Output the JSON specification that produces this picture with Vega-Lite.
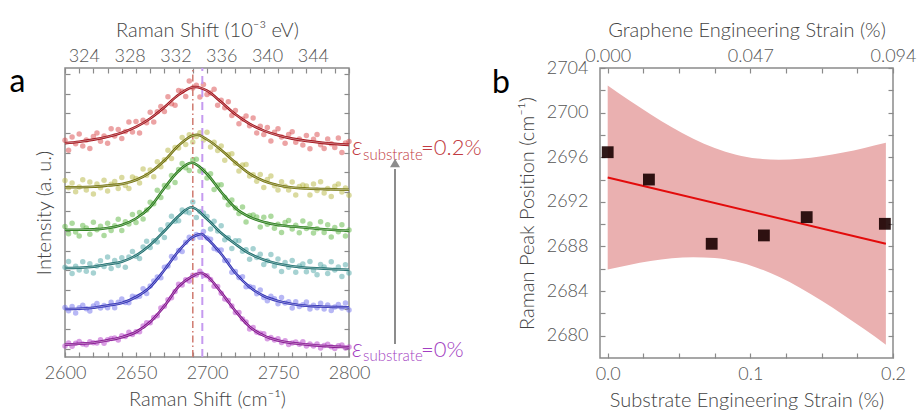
{
"$schema":"https://vega.github.io/schema/vega-lite/v6.json",
"padding":{"left":8,"top":19,"right":5,"bottom":5},
"background":"white",
"bounds":"flush",
"spacing":251,
"config":{
 "font":"Lato",
 "view":{"stroke":"#8a8a8a","strokeWidth":1.5},
 "axis":{"domain":false,"grid":false,"labelFont":"Lato","labelFontSize":18,"labelFontWeight":300,"labelColor":"#555555","titleFont":"Lato","titleFontSize":20,"titleFontWeight":300,"titleColor":"#444444","tickColor":"#8a8a8a","tickWidth":1.2,"labelFlush":false,"labelOverlap":false}
},
"datasets":{
"pts":[
{"e":0.195,"x":2600,"y":216.7},{"e":0.195,"x":2602.5,"y":206.8},{"e":0.195,"x":2605,"y":219.9},{"e":0.195,"x":2607.5,"y":213.2},{"e":0.195,"x":2610,"y":223.1},{"e":0.195,"x":2612.5,"y":211},{"e":0.195,"x":2615,"y":216.9},{"e":0.195,"x":2617.5,"y":208.4},{"e":0.195,"x":2620,"y":220.6},{"e":0.195,"x":2622.5,"y":224},{"e":0.195,"x":2625,"y":215.8},{"e":0.195,"x":2627.5,"y":221},{"e":0.195,"x":2630,"y":213.7},{"e":0.195,"x":2632.5,"y":228.2},{"e":0.195,"x":2635,"y":221.1},{"e":0.195,"x":2637.5,"y":227.5},{"e":0.195,"x":2640,"y":218.6},{"e":0.195,"x":2642.5,"y":225.5},{"e":0.195,"x":2645,"y":235.1},{"e":0.195,"x":2647.5,"y":224.9},{"e":0.195,"x":2650,"y":235.4},{"e":0.195,"x":2652.5,"y":223.9},{"e":0.195,"x":2655,"y":236.7},{"e":0.195,"x":2657.5,"y":234.2},{"e":0.195,"x":2660,"y":244.8},{"e":0.195,"x":2662.5,"y":235.1},{"e":0.195,"x":2665,"y":245.2},{"e":0.195,"x":2667.5,"y":250.6},{"e":0.195,"x":2670,"y":245.5},{"e":0.195,"x":2672.5,"y":260.2},{"e":0.195,"x":2675,"y":253.3},{"e":0.195,"x":2677.5,"y":251.8},{"e":0.195,"x":2680,"y":266.5},{"e":0.195,"x":2682.5,"y":265.8},{"e":0.195,"x":2685,"y":260.6},{"e":0.195,"x":2687.5,"y":276.1},{"e":0.195,"x":2690,"y":269.1},{"e":0.195,"x":2692.5,"y":271.7},{"e":0.195,"x":2695,"y":259.9},{"e":0.195,"x":2697.5,"y":272.4},{"e":0.195,"x":2700,"y":262.4},{"e":0.195,"x":2702.5,"y":263.9},{"e":0.195,"x":2705,"y":267.7},{"e":0.195,"x":2707.5,"y":251.7},{"e":0.195,"x":2710,"y":256.8},{"e":0.195,"x":2712.5,"y":249.3},{"e":0.195,"x":2715,"y":255.3},{"e":0.195,"x":2717.5,"y":241.5},{"e":0.195,"x":2720,"y":246.6},{"e":0.195,"x":2722.5,"y":233.3},{"e":0.195,"x":2725,"y":238},{"e":0.195,"x":2727.5,"y":240.9},{"e":0.195,"x":2730,"y":231.2},{"e":0.195,"x":2732.5,"y":239.1},{"e":0.195,"x":2735,"y":224.1},{"e":0.195,"x":2737.5,"y":230.7},{"e":0.195,"x":2740,"y":222.4},{"e":0.195,"x":2742.5,"y":229.5},{"e":0.195,"x":2745,"y":215.9},{"e":0.195,"x":2747.5,"y":224.8},{"e":0.195,"x":2750,"y":228.3},{"e":0.195,"x":2752.5,"y":220.1},{"e":0.195,"x":2755,"y":213.7},{"e":0.195,"x":2757.5,"y":222.6},{"e":0.195,"x":2760,"y":225.2},{"e":0.195,"x":2762.5,"y":214.8},{"e":0.195,"x":2765,"y":217.9},{"e":0.195,"x":2767.5,"y":212},{"e":0.195,"x":2770,"y":221.4},{"e":0.195,"x":2772.5,"y":208.3},{"e":0.195,"x":2775,"y":217.7},{"e":0.195,"x":2777.5,"y":222.6},{"e":0.195,"x":2780,"y":212.2},{"e":0.195,"x":2782.5,"y":208.4},{"e":0.195,"x":2785,"y":218},{"e":0.195,"x":2787.5,"y":213.3},{"e":0.195,"x":2790,"y":209.4},{"e":0.195,"x":2792.5,"y":219.1},{"e":0.195,"x":2795,"y":204.4},{"e":0.195,"x":2797.5,"y":214.1},{"e":0.195,"x":2800,"y":215.6},
{"e":0.14,"x":2600,"y":176.4},{"e":0.14,"x":2602.5,"y":169.2},{"e":0.14,"x":2605,"y":174},{"e":0.14,"x":2607.5,"y":165.2},{"e":0.14,"x":2610,"y":170},{"e":0.14,"x":2612.5,"y":177.3},{"e":0.14,"x":2615,"y":167},{"e":0.14,"x":2617.5,"y":175},{"e":0.14,"x":2620,"y":163.1},{"e":0.14,"x":2622.5,"y":173},{"e":0.14,"x":2625,"y":169.3},{"e":0.14,"x":2627.5,"y":176.8},{"e":0.14,"x":2630,"y":165.9},{"e":0.14,"x":2632.5,"y":172.7},{"e":0.14,"x":2635,"y":175.5},{"e":0.14,"x":2637.5,"y":168.6},{"e":0.14,"x":2640,"y":179.4},{"e":0.14,"x":2642.5,"y":171.6},{"e":0.14,"x":2645,"y":168.6},{"e":0.14,"x":2647.5,"y":180},{"e":0.14,"x":2650,"y":178.6},{"e":0.14,"x":2652.5,"y":174.1},{"e":0.14,"x":2655,"y":188},{"e":0.14,"x":2657.5,"y":181.8},{"e":0.14,"x":2660,"y":186.9},{"e":0.14,"x":2662.5,"y":180.3},{"e":0.14,"x":2665,"y":195.3},{"e":0.14,"x":2667.5,"y":190.3},{"e":0.14,"x":2670,"y":197.3},{"e":0.14,"x":2672.5,"y":206.7},{"e":0.14,"x":2675,"y":198.4},{"e":0.14,"x":2677.5,"y":209.4},{"e":0.14,"x":2680,"y":209.1},{"e":0.14,"x":2682.5,"y":219.6},{"e":0.14,"x":2685,"y":212.5},{"e":0.14,"x":2687.5,"y":222.2},{"e":0.14,"x":2690,"y":215.1},{"e":0.14,"x":2692.5,"y":220.5},{"e":0.14,"x":2695,"y":224.3},{"e":0.14,"x":2697.5,"y":216.9},{"e":0.14,"x":2700,"y":224.7},{"e":0.14,"x":2702.5,"y":210.1},{"e":0.14,"x":2705,"y":214.7},{"e":0.14,"x":2707.5,"y":206.4},{"e":0.14,"x":2710,"y":211},{"e":0.14,"x":2712.5,"y":196.7},{"e":0.14,"x":2715,"y":202.4},{"e":0.14,"x":2717.5,"y":203.2},{"e":0.14,"x":2720,"y":193.7},{"e":0.14,"x":2722.5,"y":186.1},{"e":0.14,"x":2725,"y":192.1},{"e":0.14,"x":2727.5,"y":192.5},{"e":0.14,"x":2730,"y":180.9},{"e":0.14,"x":2732.5,"y":182.3},{"e":0.14,"x":2735,"y":175.7},{"e":0.14,"x":2737.5,"y":182.6},{"e":0.14,"x":2740,"y":169.6},{"e":0.14,"x":2742.5,"y":177.4},{"e":0.14,"x":2745,"y":181.1},{"e":0.14,"x":2747.5,"y":171.3},{"e":0.14,"x":2750,"y":167},{"e":0.14,"x":2752.5,"y":175.2},{"e":0.14,"x":2755,"y":170.7},{"e":0.14,"x":2757.5,"y":166.9},{"e":0.14,"x":2760,"y":175.1},{"e":0.14,"x":2762.5,"y":162.1},{"e":0.14,"x":2765,"y":170.6},{"e":0.14,"x":2767.5,"y":172},{"e":0.14,"x":2770,"y":170.9},{"e":0.14,"x":2772.5,"y":162},{"e":0.14,"x":2775,"y":173.1},{"e":0.14,"x":2777.5,"y":166.5},{"e":0.14,"x":2780,"y":175.2},{"e":0.14,"x":2782.5,"y":163.9},{"e":0.14,"x":2785,"y":168.6},{"e":0.14,"x":2787.5,"y":160.5},{"e":0.14,"x":2790,"y":170.8},{"e":0.14,"x":2792.5,"y":173.1},{"e":0.14,"x":2795,"y":165.1},{"e":0.14,"x":2797.5,"y":169},{"e":0.14,"x":2800,"y":161.7},
{"e":0.11,"x":2600,"y":130.5},{"e":0.11,"x":2602.5,"y":123.3},{"e":0.11,"x":2605,"y":133.7},{"e":0.11,"x":2607.5,"y":124.9},{"e":0.11,"x":2610,"y":120.9},{"e":0.11,"x":2612.5,"y":131.4},{"e":0.11,"x":2615,"y":129.1},{"e":0.11,"x":2617.5,"y":122.7},{"e":0.11,"x":2620,"y":134.8},{"e":0.11,"x":2622.5,"y":127.2},{"e":0.11,"x":2625,"y":130.7},{"e":0.11,"x":2627.5,"y":121.5},{"e":0.11,"x":2630,"y":133.8},{"e":0.11,"x":2632.5,"y":126.6},{"e":0.11,"x":2635,"y":131.3},{"e":0.11,"x":2637.5,"y":137.7},{"e":0.11,"x":2640,"y":126.4},{"e":0.11,"x":2642.5,"y":135.2},{"e":0.11,"x":2645,"y":132.9},{"e":0.11,"x":2647.5,"y":142.5},{"e":0.11,"x":2650,"y":134.5},{"e":0.11,"x":2652.5,"y":144.6},{"e":0.11,"x":2655,"y":137.9},{"e":0.11,"x":2657.5,"y":147.1},{"e":0.11,"x":2660,"y":154.8},{"e":0.11,"x":2662.5,"y":153.2},{"e":0.11,"x":2665,"y":166.7},{"e":0.11,"x":2667.5,"y":159.5},{"e":0.11,"x":2670,"y":171.4},{"e":0.11,"x":2672.5,"y":170.1},{"e":0.11,"x":2675,"y":181.5},{"e":0.11,"x":2677.5,"y":174.6},{"e":0.11,"x":2680,"y":187.6},{"e":0.11,"x":2682.5,"y":193.6},{"e":0.11,"x":2685,"y":189.2},{"e":0.11,"x":2687.5,"y":186.4},{"e":0.11,"x":2690,"y":197.2},{"e":0.11,"x":2692.5,"y":197.7},{"e":0.11,"x":2695,"y":186.1},{"e":0.11,"x":2697.5,"y":186.6},{"e":0.11,"x":2700,"y":179},{"e":0.11,"x":2702.5,"y":183.3},{"e":0.11,"x":2705,"y":167.6},{"e":0.11,"x":2707.5,"y":171.9},{"e":0.11,"x":2710,"y":172.2},{"e":0.11,"x":2712.5,"y":159.4},{"e":0.11,"x":2715,"y":152.2},{"e":0.11,"x":2717.5,"y":157},{"e":0.11,"x":2720,"y":149},{"e":0.11,"x":2722.5,"y":143.6},{"e":0.11,"x":2725,"y":150.1},{"e":0.11,"x":2727.5,"y":135.1},{"e":0.11,"x":2730,"y":141.6},{"e":0.11,"x":2732.5,"y":142},{"e":0.11,"x":2735,"y":139.9},{"e":0.11,"x":2737.5,"y":129.9},{"e":0.11,"x":2740,"y":139.8},{"e":0.11,"x":2742.5,"y":132.7},{"e":0.11,"x":2745,"y":140.7},{"e":0.11,"x":2747.5,"y":128.8},{"e":0.11,"x":2750,"y":132.8},{"e":0.11,"x":2752.5,"y":124.4},{"e":0.11,"x":2755,"y":134.5},{"e":0.11,"x":2757.5,"y":136.5},{"e":0.11,"x":2760,"y":128.1},{"e":0.11,"x":2762.5,"y":131.8},{"e":0.11,"x":2765,"y":124.3},{"e":0.11,"x":2767.5,"y":136},{"e":0.11,"x":2770,"y":128.5},{"e":0.11,"x":2772.5,"y":133},{"e":0.11,"x":2775,"y":123.9},{"e":0.11,"x":2777.5,"y":128.3},{"e":0.11,"x":2780,"y":135.2},{"e":0.11,"x":2782.5,"y":124.6},{"e":0.11,"x":2785,"y":132.3},{"e":0.11,"x":2787.5,"y":120.1},{"e":0.11,"x":2790,"y":129.4},{"e":0.11,"x":2792.5,"y":125.2},{"e":0.11,"x":2795,"y":132.3},{"e":0.11,"x":2797.5,"y":120.9},{"e":0.11,"x":2800,"y":127.1},
{"e":0.073,"x":2600,"y":89.8},{"e":0.073,"x":2602.5,"y":95.5},{"e":0.073,"x":2605,"y":83.6},{"e":0.073,"x":2607.5,"y":90.8},{"e":0.073,"x":2610,"y":86.9},{"e":0.073,"x":2612.5,"y":95.2},{"e":0.073,"x":2615,"y":85.8},{"e":0.073,"x":2617.5,"y":93.3},{"e":0.073,"x":2620,"y":83.9},{"e":0.073,"x":2622.5,"y":90.9},{"e":0.073,"x":2625,"y":96.3},{"e":0.073,"x":2627.5,"y":90.5},{"e":0.073,"x":2630,"y":99.9},{"e":0.073,"x":2632.5,"y":88.6},{"e":0.073,"x":2635,"y":96.4},{"e":0.073,"x":2637.5,"y":91.5},{"e":0.073,"x":2640,"y":99.3},{"e":0.073,"x":2642.5,"y":89.7},{"e":0.073,"x":2645,"y":100},{"e":0.073,"x":2647.5,"y":105.6},{"e":0.073,"x":2650,"y":100.7},{"e":0.073,"x":2652.5,"y":98.5},{"e":0.073,"x":2655,"y":110},{"e":0.073,"x":2657.5,"y":115.8},{"e":0.073,"x":2660,"y":109.6},{"e":0.073,"x":2662.5,"y":116.3},{"e":0.073,"x":2665,"y":115},{"e":0.073,"x":2667.5,"y":127.3},{"e":0.073,"x":2670,"y":119.6},{"e":0.073,"x":2672.5,"y":132.2},{"e":0.073,"x":2675,"y":140.7},{"e":0.073,"x":2677.5,"y":135.7},{"e":0.073,"x":2680,"y":136.2},{"e":0.073,"x":2682.5,"y":147.1},{"e":0.073,"x":2685,"y":145.3},{"e":0.073,"x":2687.5,"y":144.2},{"e":0.073,"x":2690,"y":155.1},{"e":0.073,"x":2692.5,"y":139.4},{"e":0.073,"x":2695,"y":145.4},{"e":0.073,"x":2697.5,"y":144.1},{"e":0.073,"x":2700,"y":140.4},{"e":0.073,"x":2702.5,"y":128.1},{"e":0.073,"x":2705,"y":135.8},{"e":0.073,"x":2707.5,"y":125.9},{"e":0.073,"x":2710,"y":131.2},{"e":0.073,"x":2712.5,"y":117.3},{"e":0.073,"x":2715,"y":119.3},{"e":0.073,"x":2717.5,"y":108.6},{"e":0.073,"x":2720,"y":116.2},{"e":0.073,"x":2722.5,"y":116.2},{"e":0.073,"x":2725,"y":105.8},{"e":0.073,"x":2727.5,"y":107.3},{"e":0.073,"x":2730,"y":97.7},{"e":0.073,"x":2732.5,"y":108.2},{"e":0.073,"x":2735,"y":99.5},{"e":0.073,"x":2737.5,"y":102.8},{"e":0.073,"x":2740,"y":92.5},{"e":0.073,"x":2742.5,"y":96.3},{"e":0.073,"x":2745,"y":102.5},{"e":0.073,"x":2747.5,"y":91.1},{"e":0.073,"x":2750,"y":98.1},{"e":0.073,"x":2752.5,"y":85.5},{"e":0.073,"x":2755,"y":94.5},{"e":0.073,"x":2757.5,"y":89.8},{"e":0.073,"x":2760,"y":96.4},{"e":0.073,"x":2762.5,"y":84.8},{"e":0.073,"x":2765,"y":90.9},{"e":0.073,"x":2767.5,"y":92.9},{"e":0.073,"x":2770,"y":85.3},{"e":0.073,"x":2772.5,"y":95.5},{"e":0.073,"x":2775,"y":86.5},{"e":0.073,"x":2777.5,"y":82.3},{"e":0.073,"x":2780,"y":92.5},{"e":0.073,"x":2782.5,"y":89.9},{"e":0.073,"x":2785,"y":83.4},{"e":0.073,"x":2787.5,"y":95.2},{"e":0.073,"x":2790,"y":87},{"e":0.073,"x":2792.5,"y":90.1},{"e":0.073,"x":2795,"y":80.4},{"e":0.073,"x":2797.5,"y":92.2},{"e":0.073,"x":2800,"y":84.1},
{"e":0.028,"x":2600,"y":49.4},{"e":0.028,"x":2602.5,"y":46.3},{"e":0.028,"x":2605,"y":50.5},{"e":0.028,"x":2607.5,"y":44.1},{"e":0.028,"x":2610,"y":49.2},{"e":0.028,"x":2612.5,"y":51.8},{"e":0.028,"x":2615,"y":48.3},{"e":0.028,"x":2617.5,"y":45.9},{"e":0.028,"x":2620,"y":51.1},{"e":0.028,"x":2622.5,"y":53.5},{"e":0.028,"x":2625,"y":49},{"e":0.028,"x":2627.5,"y":51.5},{"e":0.028,"x":2630,"y":49.2},{"e":0.028,"x":2632.5,"y":54.8},{"e":0.028,"x":2635,"y":49.2},{"e":0.028,"x":2637.5,"y":54.8},{"e":0.028,"x":2640,"y":58.1},{"e":0.028,"x":2642.5,"y":54.6},{"e":0.028,"x":2645,"y":54.3},{"e":0.028,"x":2647.5,"y":60.8},{"e":0.028,"x":2650,"y":60},{"e":0.028,"x":2652.5,"y":60.7},{"e":0.028,"x":2655,"y":68.2},{"e":0.028,"x":2657.5,"y":63.4},{"e":0.028,"x":2660,"y":70.9},{"e":0.028,"x":2662.5,"y":76.1},{"e":0.028,"x":2665,"y":79.9},{"e":0.028,"x":2667.5,"y":79.2},{"e":0.028,"x":2670,"y":89.7},{"e":0.028,"x":2672.5,"y":90.9},{"e":0.028,"x":2675,"y":100.6},{"e":0.028,"x":2677.5,"y":99},{"e":0.028,"x":2680,"y":106.5},{"e":0.028,"x":2682.5,"y":105.4},{"e":0.028,"x":2685,"y":114.8},{"e":0.028,"x":2687.5,"y":119.7},{"e":0.028,"x":2690,"y":118.6},{"e":0.028,"x":2692.5,"y":122.4},{"e":0.028,"x":2695,"y":119.8},{"e":0.028,"x":2697.5,"y":125.6},{"e":0.028,"x":2700,"y":119},{"e":0.028,"x":2702.5,"y":117.7},{"e":0.028,"x":2705,"y":108.6},{"e":0.028,"x":2707.5,"y":107.1},{"e":0.028,"x":2710,"y":107.1},{"e":0.028,"x":2712.5,"y":96.5},{"e":0.028,"x":2715,"y":96.2},{"e":0.028,"x":2717.5,"y":84.7},{"e":0.028,"x":2720,"y":85.4},{"e":0.028,"x":2722.5,"y":79.6},{"e":0.028,"x":2725,"y":80.2},{"e":0.028,"x":2727.5,"y":70.3},{"e":0.028,"x":2730,"y":70.5},{"e":0.028,"x":2732.5,"y":69.6},{"e":0.028,"x":2735,"y":63.2},{"e":0.028,"x":2737.5,"y":66.9},{"e":0.028,"x":2740,"y":59.6},{"e":0.028,"x":2742.5,"y":56.2},{"e":0.028,"x":2745,"y":60.8},{"e":0.028,"x":2747.5,"y":58.2},{"e":0.028,"x":2750,"y":53.3},{"e":0.028,"x":2752.5,"y":59.4},{"e":0.028,"x":2755,"y":54},{"e":0.028,"x":2757.5,"y":55.2},{"e":0.028,"x":2760,"y":48.9},{"e":0.028,"x":2762.5,"y":55.3},{"e":0.028,"x":2765,"y":50.4},{"e":0.028,"x":2767.5,"y":52.2},{"e":0.028,"x":2770,"y":54.9},{"e":0.028,"x":2772.5,"y":47.9},{"e":0.028,"x":2775,"y":51.8},{"e":0.028,"x":2777.5,"y":49.3},{"e":0.028,"x":2780,"y":53.7},{"e":0.028,"x":2782.5,"y":48.1},{"e":0.028,"x":2785,"y":52.1},{"e":0.028,"x":2787.5,"y":46.5},{"e":0.028,"x":2790,"y":50},{"e":0.028,"x":2792.5,"y":52.6},{"e":0.028,"x":2795,"y":49},{"e":0.028,"x":2797.5,"y":53.9},{"e":0.028,"x":2800,"y":47},
{"e":0,"x":2600,"y":11},{"e":0,"x":2602.5,"y":14},{"e":0,"x":2605,"y":10.8},{"e":0,"x":2607.5,"y":13.8},{"e":0,"x":2610,"y":15.5},{"e":0,"x":2612.5,"y":13},{"e":0,"x":2615,"y":12.3},{"e":0,"x":2617.5,"y":15.3},{"e":0,"x":2620,"y":14.3},{"e":0,"x":2622.5,"y":13.9},{"e":0,"x":2625,"y":17.3},{"e":0,"x":2627.5,"y":13.8},{"e":0,"x":2630,"y":17.2},{"e":0,"x":2632.5,"y":18.5},{"e":0,"x":2635,"y":19},{"e":0,"x":2637.5,"y":17},{"e":0,"x":2640,"y":21.3},{"e":0,"x":2642.5,"y":20.6},{"e":0,"x":2645,"y":24.7},{"e":0,"x":2647.5,"y":22.4},{"e":0,"x":2650,"y":25.3},{"e":0,"x":2652.5,"y":25.2},{"e":0,"x":2655,"y":31},{"e":0,"x":2657.5,"y":34.3},{"e":0,"x":2660,"y":34.2},{"e":0,"x":2662.5,"y":39.5},{"e":0,"x":2665,"y":41.2},{"e":0,"x":2667.5,"y":49},{"e":0,"x":2670,"y":50.7},{"e":0,"x":2672.5,"y":57.2},{"e":0,"x":2675,"y":59.3},{"e":0,"x":2677.5,"y":65.6},{"e":0,"x":2680,"y":72.8},{"e":0,"x":2682.5,"y":72.1},{"e":0,"x":2685,"y":77.3},{"e":0,"x":2687.5,"y":76.1},{"e":0,"x":2690,"y":81.8},{"e":0,"x":2692.5,"y":82},{"e":0,"x":2695,"y":85.8},{"e":0,"x":2697.5,"y":81.7},{"e":0,"x":2700,"y":81.3},{"e":0,"x":2702.5,"y":77.5},{"e":0,"x":2705,"y":70.7},{"e":0,"x":2707.5,"y":70.5},{"e":0,"x":2710,"y":63.7},{"e":0,"x":2712.5,"y":57.9},{"e":0,"x":2715,"y":56.6},{"e":0,"x":2717.5,"y":51.1},{"e":0,"x":2720,"y":44.5},{"e":0,"x":2722.5,"y":44.4},{"e":0,"x":2725,"y":37.9},{"e":0,"x":2727.5,"y":35},{"e":0,"x":2730,"y":28},{"e":0,"x":2732.5,"y":29.5},{"e":0,"x":2735,"y":24.8},{"e":0,"x":2737.5,"y":23.8},{"e":0,"x":2740,"y":23.3},{"e":0,"x":2742.5,"y":18.3},{"e":0,"x":2745,"y":19.4},{"e":0,"x":2747.5,"y":16.9},{"e":0,"x":2750,"y":18.3},{"e":0,"x":2752.5,"y":14.6},{"e":0,"x":2755,"y":16.3},{"e":0,"x":2757.5,"y":12.6},{"e":0,"x":2760,"y":14},{"e":0,"x":2762.5,"y":15.1},{"e":0,"x":2765,"y":12.8},{"e":0,"x":2767.5,"y":15.2},{"e":0,"x":2770,"y":11},{"e":0,"x":2772.5,"y":13},{"e":0,"x":2775,"y":10.9},{"e":0,"x":2777.5,"y":12.9},{"e":0,"x":2780,"y":9},{"e":0,"x":2782.5,"y":11.6},{"e":0,"x":2785,"y":12.7},{"e":0,"x":2787.5,"y":10.3},{"e":0,"x":2790,"y":8.6},{"e":0,"x":2792.5,"y":11.2},{"e":0,"x":2795,"y":12.1},{"e":0,"x":2797.5,"y":9.1},{"e":0,"x":2800,"y":10}
],
"fit":[
{"e":0.195,"x":2600,"y":213.8},{"e":0.195,"x":2610,"y":215.3},{"e":0.195,"x":2620,"y":217.4},{"e":0.195,"x":2630,"y":220.3},{"e":0.195,"x":2640,"y":224.3},{"e":0.195,"x":2650,"y":230.1},{"e":0.195,"x":2660,"y":238.5},{"e":0.195,"x":2670,"y":249.8},{"e":0.195,"x":2680,"y":262.2},{"e":0.195,"x":2690,"y":269.8},{"e":0.195,"x":2692,"y":270},{"e":0.195,"x":2700,"y":266.3},{"e":0.195,"x":2710,"y":254.9},{"e":0.195,"x":2720,"y":242.7},{"e":0.195,"x":2730,"y":233.1},{"e":0.195,"x":2740,"y":226.4},{"e":0.195,"x":2750,"y":221.7},{"e":0.195,"x":2760,"y":218.4},{"e":0.195,"x":2770,"y":216.1},{"e":0.195,"x":2780,"y":214.4},{"e":0.195,"x":2790,"y":213.1},{"e":0.195,"x":2800,"y":212.1},
{"e":0.14,"x":2600,"y":169.7},{"e":0.14,"x":2610,"y":169.8},{"e":0.14,"x":2620,"y":170.3},{"e":0.14,"x":2630,"y":171.5},{"e":0.14,"x":2640,"y":173},{"e":0.14,"x":2650,"y":177},{"e":0.14,"x":2660,"y":184.5},{"e":0.14,"x":2670,"y":196.5},{"e":0.14,"x":2680,"y":211.5},{"e":0.14,"x":2690,"y":221.5},{"e":0.14,"x":2693,"y":222.2},{"e":0.14,"x":2700,"y":217.5},{"e":0.14,"x":2710,"y":207},{"e":0.14,"x":2720,"y":194.5},{"e":0.14,"x":2730,"y":183.3},{"e":0.14,"x":2740,"y":176},{"e":0.14,"x":2750,"y":171.8},{"e":0.14,"x":2760,"y":169.5},{"e":0.14,"x":2770,"y":168.5},{"e":0.14,"x":2780,"y":168},{"e":0.14,"x":2790,"y":167.6},{"e":0.14,"x":2800,"y":167.3},
{"e":0.11,"x":2600,"y":127.3},{"e":0.11,"x":2610,"y":127.3},{"e":0.11,"x":2620,"y":127.6},{"e":0.11,"x":2630,"y":129},{"e":0.11,"x":2640,"y":132},{"e":0.11,"x":2650,"y":138.5},{"e":0.11,"x":2660,"y":150},{"e":0.11,"x":2670,"y":169},{"e":0.11,"x":2680,"y":186},{"e":0.11,"x":2689,"y":194.2},{"e":0.11,"x":2700,"y":183},{"e":0.11,"x":2710,"y":165},{"e":0.11,"x":2720,"y":149},{"e":0.11,"x":2730,"y":140},{"e":0.11,"x":2740,"y":135},{"e":0.11,"x":2750,"y":132},{"e":0.11,"x":2760,"y":130.5},{"e":0.11,"x":2770,"y":129.3},{"e":0.11,"x":2780,"y":128},{"e":0.11,"x":2790,"y":127},{"e":0.11,"x":2800,"y":126.3},
{"e":0.073,"x":2600,"y":89},{"e":0.073,"x":2610,"y":89.3},{"e":0.073,"x":2620,"y":90.3},{"e":0.073,"x":2630,"y":92.7},{"e":0.073,"x":2640,"y":95.3},{"e":0.073,"x":2650,"y":101.5},{"e":0.073,"x":2660,"y":112},{"e":0.073,"x":2670,"y":126},{"e":0.073,"x":2680,"y":141},{"e":0.073,"x":2689,"y":149.7},{"e":0.073,"x":2700,"y":138},{"e":0.073,"x":2710,"y":124},{"e":0.073,"x":2720,"y":113},{"e":0.073,"x":2730,"y":103.3},{"e":0.073,"x":2740,"y":97.3},{"e":0.073,"x":2750,"y":93.3},{"e":0.073,"x":2760,"y":90.8},{"e":0.073,"x":2770,"y":89.3},{"e":0.073,"x":2780,"y":88.5},{"e":0.073,"x":2790,"y":87.8},{"e":0.073,"x":2800,"y":87.3},
{"e":0.028,"x":2600,"y":48},{"e":0.028,"x":2610,"y":48.3},{"e":0.028,"x":2620,"y":49.3},{"e":0.028,"x":2630,"y":51.5},{"e":0.028,"x":2640,"y":54},{"e":0.028,"x":2650,"y":60},{"e":0.028,"x":2660,"y":70},{"e":0.028,"x":2670,"y":87},{"e":0.028,"x":2680,"y":106},{"e":0.028,"x":2690,"y":120},{"e":0.028,"x":2696,"y":123},{"e":0.028,"x":2700,"y":118.5},{"e":0.028,"x":2710,"y":103},{"e":0.028,"x":2720,"y":84},{"e":0.028,"x":2730,"y":70},{"e":0.028,"x":2740,"y":61},{"e":0.028,"x":2750,"y":56},{"e":0.028,"x":2760,"y":53},{"e":0.028,"x":2770,"y":51.3},{"e":0.028,"x":2780,"y":50.5},{"e":0.028,"x":2790,"y":50},{"e":0.028,"x":2800,"y":49.7},
{"e":0,"x":2600,"y":12.3},{"e":0,"x":2610,"y":13.2},{"e":0,"x":2620,"y":14.3},{"e":0,"x":2630,"y":16.7},{"e":0,"x":2640,"y":19.8},{"e":0,"x":2650,"y":25},{"e":0,"x":2660,"y":35},{"e":0,"x":2670,"y":51},{"e":0,"x":2680,"y":70.5},{"e":0,"x":2690,"y":81},{"e":0,"x":2696,"y":84},{"e":0,"x":2700,"y":81},{"e":0,"x":2710,"y":64.5},{"e":0,"x":2720,"y":46},{"e":0,"x":2730,"y":30.3},{"e":0,"x":2740,"y":21.3},{"e":0,"x":2750,"y":16.5},{"e":0,"x":2760,"y":14},{"e":0,"x":2770,"y":12.5},{"e":0,"x":2780,"y":11.3},{"e":0,"x":2790,"y":10.4},{"e":0,"x":2800,"y":9.7}
],
"band":[
{"x":0,"lo":2685.93,"hi":2702.43},{"x":0.015,"lo":2686.34,"hi":2701.1},{"x":0.03,"lo":2686.69,"hi":2699.85},{"x":0.045,"lo":2686.94,"hi":2698.68},{"x":0.06,"lo":2687.04,"hi":2697.66},{"x":0.075,"lo":2686.97,"hi":2696.83},{"x":0.09,"lo":2686.65,"hi":2696.23},{"x":0.105,"lo":2686.08,"hi":2695.88},{"x":0.12,"lo":2685.28,"hi":2695.78},{"x":0.135,"lo":2684.28,"hi":2695.86},{"x":0.15,"lo":2683.13,"hi":2696.09},{"x":0.165,"lo":2681.88,"hi":2696.42},{"x":0.18,"lo":2680.57,"hi":2696.83},{"x":0.195,"lo":2679.19,"hi":2697.29}
],
"fitb":[{"x":0,"y":2694.18},{"x":0.195,"y":2688.24}],
"peaks":[{"x":0,"y":2696.45},{"x":0.0289,"y":2694.0},{"x":0.0729,"y":2688.24},{"x":0.1095,"y":2688.99},{"x":0.1395,"y":2690.63},{"x":0.1943,"y":2690.03}]
},
"hconcat":[
{
 "width":284,"height":289,
 "resolve":{"scale":{"color":"independent"}},
 "layer":[
  {"data":{"name":"pts"},"mark":{"type":"point","filled":true,"size":30,"opacity":0.5},
   "encoding":{
    "x":{"field":"x","type":"quantitative","scale":{"domain":[2600,2800],"nice":false,"zero":false},
      "axis":{"orient":"bottom","title":"Raman Shift (cm⁻¹)","values":[2600,2610,2620,2630,2640,2650,2660,2670,2680,2690,2700,2710,2720,2730,2740,2750,2760,2770,2780,2790,2800],"format":"d","labelExpr":"datum.value % 50 === 0 ? datum.label : ''","tickSize":-5,"labelPadding":12,"titlePadding":7}},
    "y":{"field":"y","type":"quantitative","scale":{"domain":[0,289],"nice":false,"zero":false},
      "axis":{"orient":"left","title":"Intensity (a. u.)","values":[8.4,28,47.6,67.2,86.8,106.4,126,145.6,165.2,184.8,204.4,224,243.6,263.2,282.8],"labels":false,"tickSize":-5,"titlePadding":10}},
    "color":{"field":"e","type":"nominal","scale":{"domain":[0,0.028,0.073,0.11,0.14,0.195],"range":["#b43cc8","#6f6fec","#4ea6a6","#5cb640","#b5b53f","#d9474a"]},"legend":null}
   }},
  {"data":{"values":[{"x":2690}]},"mark":{"type":"rule","color":"#cf7a6f","strokeWidth":1.5,"strokeDash":[7,3,1.5,3]},
   "encoding":{"x":{"field":"x","type":"quantitative","axis":null},"y":{"datum":0,"type":"quantitative","axis":null},"y2":{"datum":289}}},
  {"data":{"values":[{"x":2696.7}]},"mark":{"type":"rule","color":"#c59af0","strokeWidth":2,"strokeDash":[8,5]},
   "encoding":{"x":{"field":"x","type":"quantitative","axis":null},"y":{"datum":0,"type":"quantitative","axis":null},"y2":{"datum":289}}},
  {"data":{"name":"fit"},"mark":{"type":"line","strokeWidth":2.6,"interpolate":"monotone"},
   "encoding":{
    "x":{"field":"x","type":"quantitative","axis":{"orient":"top","title":"Raman Shift (10⁻³ eV)","values":[2613.23,2645.49,2677.76,2710.02,2742.28,2774.54],"labelExpr":"format(datum.value*0.12398419, '.0f')","ticks":false,"labelPadding":3,"titlePadding":7}},
    "y":{"field":"y","type":"quantitative","axis":null},
    "color":{"field":"e","type":"nominal","scale":{"domain":[0,0.028,0.073,0.11,0.14,0.195],"range":["#85158f","#3232b5","#1d6e6e","#2a7d1b","#73730e","#a3141c"]},"legend":null}}},
  {"data":{"name":"fit"},"mark":{"type":"line","strokeWidth":0.8,"color":"white","opacity":0.55,"interpolate":"monotone"},
   "encoding":{
    "x":{"field":"x","type":"quantitative","axis":{"orient":"top","labels":false,"title":null,"values":[2600,2610,2620,2630,2640,2650,2660,2670,2680,2690,2700,2710,2720,2730,2740,2750,2760,2770,2780,2790,2800],"tickSize":-5}},
    "y":{"field":"y","type":"quantitative","axis":{"orient":"right","labels":false,"title":null,"values":[8.4,28,47.6,67.2,86.8,106.4,126,145.6,165.2,184.8,204.4,224,243.6,263.2,282.8],"tickSize":-5}},
    "detail":{"field":"e","type":"nominal"}}},
  {"data":{"values":[{"t":"ε","x":2802.1,"y":202,"end":"top"},{"t":"ε","x":2802.1,"y":0,"end":"bottom"}]},
   "mark":{"type":"text","align":"left","baseline":"alphabetic","fontSize":25,"fontStyle":"italic","fontWeight":300},
   "encoding":{"x":{"field":"x","type":"quantitative","axis":null},"y":{"field":"y","type":"quantitative","axis":null},"text":{"field":"t"},
    "color":{"field":"end","type":"nominal","scale":{"domain":["top","bottom"],"range":["#c23b42","#a33fc2"]},"legend":null}}},
  {"data":{"values":[{"t":"substrate","x":2809.9,"y":197,"end":"top"},{"t":"substrate","x":2809.9,"y":-4,"end":"bottom"}]},
   "mark":{"type":"text","align":"left","baseline":"alphabetic","fontSize":15,"fontWeight":300},
   "encoding":{"x":{"field":"x","type":"quantitative","axis":null},"y":{"field":"y","type":"quantitative","axis":null},"text":{"field":"t"},
    "color":{"field":"end","type":"nominal","scale":{"domain":["top","bottom"],"range":["#c23b42","#a33fc2"]},"legend":null}}},
  {"data":{"values":[{"t":"=0.2%","x":2850.7,"y":202,"end":"top"},{"t":"=0%","x":2850.7,"y":0,"end":"bottom"}]},
   "mark":{"type":"text","align":"left","baseline":"alphabetic","fontSize":22,"fontWeight":300},
   "encoding":{"x":{"field":"x","type":"quantitative","axis":null},"y":{"field":"y","type":"quantitative","axis":null},"text":{"field":"t"},
    "color":{"field":"end","type":"nominal","scale":{"domain":["top","bottom"],"range":["#c23b42","#a33fc2"]},"legend":null}}},
  {"data":{"values":[{"x":2832.4,"y":13,"y2":188}]},"mark":{"type":"rule","color":"#8c8c8c","strokeWidth":2},
   "encoding":{"x":{"field":"x","type":"quantitative","axis":null},"y":{"field":"y","type":"quantitative","axis":null},"y2":{"field":"y2"}}},
  {"data":{"values":[{"x":2832.4,"y":194}]},"mark":{"type":"point","shape":"triangle-up","filled":true,"size":100,"color":"#8c8c8c","opacity":1},
   "encoding":{"x":{"field":"x","type":"quantitative","axis":null},"y":{"field":"y","type":"quantitative","axis":null}}},
  {"data":{"values":[{"t":"a","x":2566.6,"y":265}]},"mark":{"type":"text","align":"center","baseline":"alphabetic","fontSize":32,"fontWeight":400,"color":"#000000"},
   "encoding":{"x":{"field":"x","type":"quantitative","axis":null},"y":{"field":"y","type":"quantitative","axis":null},"text":{"field":"t"}}}
 ]
},
{
 "width":293,"height":290,
 "layer":[
  {"data":{"name":"band"},"mark":{"type":"area","color":"#eab0b0","opacity":1,"interpolate":"monotone"},
   "encoding":{
    "x":{"field":"x","type":"quantitative","scale":{"domain":[-0.0054,0.2],"nice":false,"zero":false},
      "axis":{"orient":"bottom","title":"Substrate Engineering Strain (%)","values":[0,0.025,0.05,0.075,0.1,0.125,0.15,0.175,0.2],"labelExpr":"abs(datum.value*10 - round(datum.value*10)) < 0.001 ? format(datum.value, '.1f') : ''","tickSize":-5,"labelPadding":12,"titlePadding":7}},
    "y":{"field":"hi","type":"quantitative","scale":{"domain":[2678,2704],"nice":false,"zero":false},
      "axis":{"orient":"left","title":"Raman Peak Position (cm⁻¹)","values":[2680,2682,2684,2686,2688,2690,2692,2694,2696,2698,2700,2702,2704],"format":"d","labelExpr":"datum.value % 4 === 0 ? datum.label : ''","tickSize":-5,"labelPadding":17,"titlePadding":9}},
    "y2":{"field":"lo"}}},
  {"data":{"name":"fitb"},"mark":{"type":"line","color":"#e30b0b","strokeWidth":2},
   "encoding":{
    "x":{"field":"x","type":"quantitative","axis":{"orient":"top","title":"Graphene Engineering Strain (%)","values":[0,0.025,0.05,0.075,0.1,0.125,0.15,0.175,0.2],"labelExpr":"abs(datum.value*10 - round(datum.value*10)) < 0.001 ? format(datum.value*0.47, '.3f') : ''","tickSize":-5,"labelPadding":8,"titlePadding":7}},
    "y":{"field":"y","type":"quantitative","axis":{"orient":"right","labels":false,"title":null,"values":[2680,2682,2684,2686,2688,2690,2692,2694,2696,2698,2700,2702,2704],"tickSize":-5}}}},
  {"data":{"name":"peaks"},"mark":{"type":"point","shape":"square","filled":true,"size":140,"color":"#1a0000","opacity":0.9},
   "encoding":{"x":{"field":"x","type":"quantitative","axis":null},"y":{"field":"y","type":"quantitative","axis":null}}},
  {"data":{"values":[{"t":"b","x":-0.0749,"y":2701.73}]},"mark":{"type":"text","align":"center","baseline":"alphabetic","fontSize":32,"fontWeight":400,"color":"#000000"},
   "encoding":{"x":{"field":"x","type":"quantitative","axis":null},"y":{"field":"y","type":"quantitative","axis":null},"text":{"field":"t"}}}
 ]
}
]
}
